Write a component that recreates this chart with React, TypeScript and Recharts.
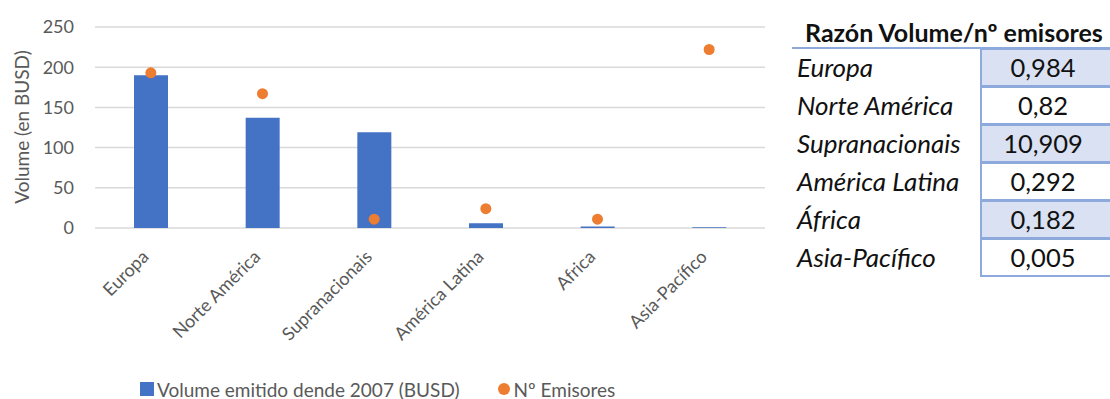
import { ComposedChart, Bar, Scatter, XAxis, YAxis, CartesianGrid, Legend } from 'recharts';

const regions = ['Europa', 'Norte América', 'Supranacionais', 'América Latina', 'Africa', 'Asia-Pacífico'];
const volume = [190, 137, 119, 6, 2, 1];
const emisores = [193, 167, 11, 24, 11, 222];
const yTicks = [0, 50, 100, 150, 200, 250];

const tableRegions = ['Europa', 'Norte América', 'Supranacionais', 'América Latina', 'África', 'Asia-Pacífico'];
const ratios = ['0,984', '0,82', '10,909', '0,292', '0,182', '0,005'];

const data = regions.map((name, i) => ({ name, volume: volume[i], emisores: emisores[i] }));

const FONT = 'Lato, "Open Sans", sans-serif';
const GREY = '#595959';

const XTick = ({ x, y, payload }: any) => (
    <g transform={`translate(${x - 1},${y + 30})`}>
        <text textAnchor="end" transform="rotate(-45)" fill={GREY} fontSize={18} fontFamily={FONT}>
            {payload.value}
        </text>
    </g>
);

const YLabel = () => (
    <text x={22} y={127} transform="rotate(-90 22 127)" textAnchor="middle" dy="0.35em"
        fill={GREY} fontSize={19} fontFamily={FONT}>
        Volume (en BUSD)
    </text>
);

const LegendContent = () => (
    <div style={{ display: 'flex', alignItems: 'center', paddingLeft: 140, fontFamily: FONT, fontSize: 19, color: GREY, height: 24 }}>
        <span style={{ width: 14, height: 14, background: '#4472C4', marginRight: 3 }} />
        <span style={{ marginRight: 38 }}>Volume emitido dende 2007 (BUSD)</span>
        <span style={{ width: 12, height: 12, borderRadius: 6, background: '#ED7D31', marginRight: 4 }} />
        <span>Nº Emisores</span>
    </div>
);

function App() {
    return (
        <div style={{ position: 'absolute', left: 0, top: 0, width: 1110, height: 399, background: '#fff', overflow: 'hidden' }}>
            <ComposedChart width={770} height={399} data={data} margin={{ top: 27, right: 5, bottom: 0, left: 0 }}>
                <CartesianGrid vertical={false} stroke="#D9D9D9" strokeWidth={1.5} />
                <XAxis dataKey="name" height={171} axisLine={false} tickLine={false} tickSize={0} tickMargin={0}
                    interval={0} tick={<XTick />} />
                <YAxis width={95} domain={[0, 250]} ticks={yTicks} axisLine={false} tickLine={false} tickSize={0}
                    tickMargin={21} tick={{ fill: GREY, fontSize: 18, fontFamily: FONT }} label={<YLabel />} />
                <Legend verticalAlign="middle" align="center" layout="horizontal" content={<LegendContent />}
                    wrapperStyle={{ top: 377, left: 0, width: 770 }} />
                <Bar dataKey="volume" name="Volume emitido dende 2007 (BUSD)" fill="#4472C4" barSize={34}
                    isAnimationActive={false} />
                <Scatter dataKey="emisores" name="Nº Emisores" fill="#ED7D31" isAnimationActive={false}
                    shape={(p: any) => <circle cx={p.cx} cy={p.cy} r={5.5} fill="#ED7D31" />} />
            </ComposedChart>

            <div style={{ position: 'absolute', left: 780, top: 0, width: 330, height: 399, overflow: 'hidden', fontFamily: FONT, color: '#111' }}>
                <div style={{ position: 'absolute', left: 25, top: 17, height: 30, lineHeight: '30px', fontSize: 25, fontWeight: 700, whiteSpace: 'nowrap' }}>
                    Razón Volume/nº emisores
                </div>
                <div style={{ position: 'absolute', left: 12, top: 47, width: 340, height: 2, background: '#8EA9DB' }} />
                {tableRegions.map((r, i) => (
                    <div key={r}>
                        <div style={{ position: 'absolute', left: 17, top: 48 + i * 38, height: 38, lineHeight: '38px', fontSize: 26, fontStyle: 'italic', whiteSpace: 'nowrap' }}>
                            {r}
                        </div>
                        <div style={{
                            position: 'absolute', left: 200, top: 48 + i * 38, width: 146, height: 39, boxSizing: 'border-box',
                            border: '2px solid #8EA9DB', background: i % 2 === 0 ? '#D9E1F2' : '#fff',
                            textAlign: 'center', lineHeight: '35px', fontSize: 25.5, paddingRight: 20
                        }}>
                            {ratios[i]}
                        </div>
                    </div>
                ))}
            </div>
        </div>
    );
}

export default App;
